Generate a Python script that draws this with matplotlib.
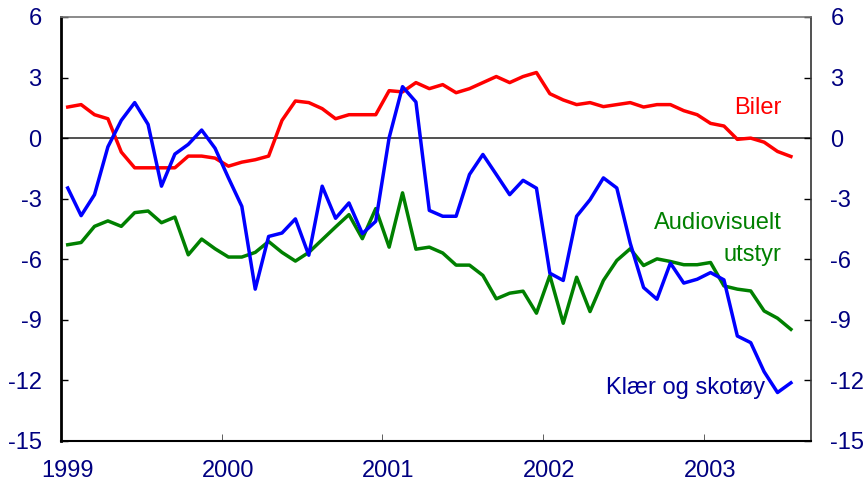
import numpy as np
import matplotlib
matplotlib.use('Agg')
import matplotlib.pyplot as plt
import matplotlib.transforms as mtransforms

plt.rcParams['font.family'] = ['Liberation Sans', 'DejaVu Sans']
plt.rcParams['axes.unicode_minus'] = False

# monthly, Jan 1999 - Jul 2003
biler = [1.54, 1.66, 1.16, 0.96, -0.69, -1.47, -1.47, -1.47, -1.47, -0.89, -0.89, -0.99,
         -1.39, -1.19, -1.07, -0.89, 0.88, 1.84, 1.76, 1.46, 0.96, 1.16, 1.16, 1.16,
         2.35, 2.29, 2.75, 2.45, 2.65, 2.25, 2.45, 2.75, 3.05, 2.75, 3.05, 3.25,
         2.2, 1.89, 1.66, 1.76, 1.56, 1.66, 1.76, 1.54, 1.66, 1.66, 1.36, 1.16,
         0.73, 0.6, -0.06, 0.0, -0.2, -0.66, -0.91]
klaer = [-2.47, -3.84, -2.8, -0.43, 0.88, 1.76, 0.68, -2.38, -0.79, -0.31, 0.4, -0.5,
         -1.97, -3.38, -7.48, -4.87, -4.7, -4.0, -5.8, -2.38, -3.97, -3.21, -4.73, -4.12,
         0.02, 2.55, 1.79, -3.58, -3.87, -3.87, -1.8, -0.81, -1.8, -2.8, -2.09, -2.48,
         -6.69, -7.05, -3.87, -3.05, -1.97, -2.47, -5.2, -7.4, -7.98, -6.19, -7.18, -6.99,
         -6.66, -7.02, -9.8, -10.13, -11.57, -12.6, -12.12]
audio = [-5.28, -5.17, -4.37, -4.1, -4.37, -3.69, -3.61, -4.19, -3.91, -5.78, -5.0, -5.48,
         -5.89, -5.89, -5.66, -5.12, -5.66, -6.09, -5.66, -5.03, -4.4, -3.79, -4.98, -3.49,
         -5.4, -2.71, -5.5, -5.4, -5.69, -6.29, -6.29, -6.8, -7.96, -7.68, -7.58, -8.67,
         -6.8, -9.17, -6.89, -8.59, -7.05, -6.06, -5.48, -6.31, -5.98, -6.11, -6.27, -6.27,
         -6.16, -7.32, -7.48, -7.57, -8.56, -8.92, -9.47]
years = ['1999', '2000', '2001', '2002', '2003']

navy = '#000080'
x = np.arange(len(biler)) + 0.5

fig = plt.figure(figsize=(8.67, 4.84), dpi=100)
ax = fig.add_axes([0.0704, 0.0889, 0.865, 0.876])

ax.axhline(0, color='#333333', lw=1.2, zorder=1)
ax.plot(x, biler, color='#ff0000', lw=2.5)
ax.plot(x, audio, color='#008000', lw=2.5)
ax.plot(x, klaer, color='#0000ff', lw=2.5)

ax.set_xlim(0, 56)
ax.set_ylim(-15, 6)
ax.set_yticks(range(-15, 7, 3))
ax.set_xticks([0, 12, 24, 36, 48])
ax.set_xticklabels(years)

ax.tick_params(axis='y', direction='in', length=5, width=1, colors='black',
               labelcolor=navy, labelsize=17, pad=14, right=True, labelright=True)
ax.tick_params(axis='x', direction='in', length=5, width=0.6, colors='#444444',
               labelcolor=navy, labelsize=17, pad=14)

# year labels sit a little right of the ticks in the original
off = mtransforms.ScaledTranslation(6 / 100, 0, fig.dpi_scale_trans)
for lab in ax.get_xticklabels():
    lab.set_transform(lab.get_transform() + off)

ax.spines['left'].set_linewidth(2)
ax.spines['bottom'].set_linewidth(1.5)
ax.spines['right'].set_linewidth(1.2)
ax.spines['right'].set_color('#333333')
ax.spines['top'].set_color('#777777')
ax.spines['top'].set_linewidth(1.2)

ax.text(53.8, 1.5, 'Biler', color='#ff0000', fontsize=17, ha='right', va='center')
ax.text(53.8, -4.2, 'Audiovisuelt', color='#008000', fontsize=17, ha='right', va='center')
ax.text(53.8, -5.8, 'utstyr', color='#008000', fontsize=17, ha='right', va='center')
ax.text(52.6, -12.4, 'Klær og skotøy', color='#000099', fontsize=17, ha='right', va='center')

fig.savefig('out.png', dpi=100)
